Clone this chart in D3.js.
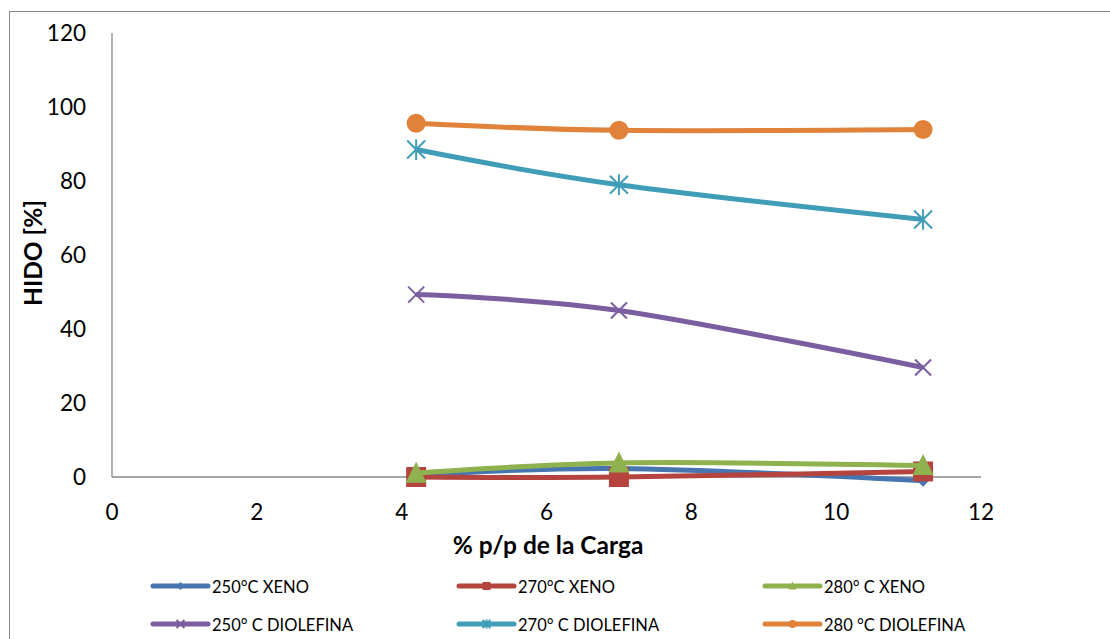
<!DOCTYPE html>
<html>
<head>
<meta charset="utf-8">
<script src="https://cdn.jsdelivr.net/npm/d3@7"></script>
<style>
  body { margin: 0; background: #fff; }
  svg { display: block; font-family: Lato, "Open Sans", sans-serif; }
</style>
</head>
<body>
<div id="chart"></div>
<script>
const width = 1110, height = 639;

// data
const xVals = [4.2, 7, 11.2];
const xeno250 = [0.5, 2.3, -1.0];
const xeno270 = [0, 0, 1.5];
const xeno280 = [1.0, 3.8, 3.1];
const diol250 = [49.3, 45, 29.6];
const diol270 = [88.5, 79, 69.6];
const diol280 = [95.6, 93.7, 93.9];
const xTicks = [0, 2, 4, 6, 8, 10, 12];
const yTicks = [0, 20, 40, 60, 80, 100, 120];

const series = [
  {name: "250°C XENO", values: xeno250, color: "#4675b0", marker: "diamond"},
  {name: "270°C XENO", values: xeno270, color: "#b5443f", marker: "square"},
  {name: "280° C XENO", values: xeno280, color: "#8fb24f", marker: "triangle"},
  {name: "250° C DIOLEFINA", values: diol250, color: "#7b5ea0", marker: "x"},
  {name: "270° C DIOLEFINA", values: diol270, color: "#409db7", marker: "star"},
  {name: "280 °C DIOLEFINA", values: diol280, color: "#e0823a", marker: "circle"}
];

var svg = d3.select("#chart").append("svg").attr("width", width).attr("height", height);

// outer chart border
svg.append("rect").attr("x", 9.5).attr("y", 11.5).attr("width", 1200).attr("height", 700)
  .attr("fill", "none").attr("stroke", "#888").attr("stroke-width", 1);

var x = d3.scaleLinear().domain([0, 12]).range([112, 981]);
var y = d3.scaleLinear().domain([0, 120]).range([477, 33]);

// axes
svg.append("line").attr("x1", x(0)).attr("x2", x(0)).attr("y1", y(120)).attr("y2", y(0))
  .attr("stroke", "#888").attr("stroke-width", 1.3);
svg.append("line").attr("x1", x(0)).attr("x2", x(12)).attr("y1", y(0)).attr("y2", y(0))
  .attr("stroke", "#888").attr("stroke-width", 1.3);

svg.selectAll(".ytick").data(yTicks).enter().append("text")
  .attr("x", 86).attr("y", d => y(d) + 8).attr("text-anchor", "end")
  .attr("font-size", 22.5).attr("fill", "#000").text(d => d);
svg.selectAll(".xtick").data(xTicks).enter().append("text")
  .attr("x", d => x(d)).attr("y", 520).attr("text-anchor", "middle")
  .attr("font-size", 22.5).attr("fill", "#000").text(d => d);

svg.append("text").attr("x", 548).attr("y", 554).attr("text-anchor", "middle")
  .attr("font-size", 24.5).attr("font-weight", "bold").text("% p/p de la Carga");
svg.append("text").attr("transform", "translate(42,253) rotate(-90)").attr("text-anchor", "middle")
  .attr("font-size", 24.5).attr("font-weight", "bold").text("HIDO [%]");

function drawMarker(g, type, color, s) {
  if (type === "diamond") {
    g.append("path").attr("d", `M0,${-s}L${s},0L0,${s}L${-s},0Z`).attr("fill", color);
  } else if (type === "square") {
    g.append("rect").attr("x", -s).attr("y", -s).attr("width", 2 * s).attr("height", 2 * s).attr("fill", color);
  } else if (type === "triangle") {
    g.append("path").attr("d", `M0,${-s * 1.1}L${s},${s * 0.9}L${-s},${s * 0.9}Z`).attr("fill", color);
  } else if (type === "circle") {
    g.append("circle").attr("r", s).attr("fill", color);
  } else if (type === "x") {
    g.append("path").attr("d", `M${-s},${-s}L${s},${s}M${-s},${s}L${s},${-s}`)
      .attr("stroke", color).attr("stroke-width", 2);
  } else if (type === "star") {
    g.append("path").attr("d", `M${-s},${-s}L${s},${s}M${-s},${s}L${s},${-s}M0,${-s * 1.15}L0,${s * 1.15}`)
      .attr("stroke", color).attr("stroke-width", 2);
  }
}

var line = d3.line().x((d, i) => x(xVals[i])).y(d => y(d)).curve(d3.curveCatmullRom.alpha(0));

var sizes = {diamond: 6, square: 10, triangle: 10.5, circle: 9.5, x: 8, star: 9};

series.forEach(function(s) {
  svg.append("path").datum(s.values).attr("d", line).attr("fill", "none")
    .attr("stroke", s.color).attr("stroke-width", 5).attr("stroke-linejoin", "round");
  s.values.forEach(function(v, i) {
    var g = svg.append("g").attr("transform", "translate(" + x(xVals[i]) + "," + y(v) + ")");
    drawMarker(g, s.marker, s.color, sizes[s.marker]);
  });
});

// legend
var legCols = [153, 459, 765];
var legRows = [586, 624];
series.forEach(function(s, i) {
  var lx = legCols[i % 3], ly = legRows[Math.floor(i / 3)];
  var g = svg.append("g").attr("transform", "translate(" + lx + "," + ly + ")");
  g.append("line").attr("x1", 0).attr("x2", 55).attr("y1", 0).attr("y2", 0)
    .attr("stroke", s.color).attr("stroke-width", 5).attr("stroke-linecap", "round");
  var m = g.append("g").attr("transform", "translate(27.5,0)");
  drawMarker(m, s.marker, s.color, 4);
  g.append("text").attr("x", 59).attr("y", 6.5).attr("font-size", 16.5).attr("fill", "#000").text(s.name);
});
</script>
</body>
</html>
